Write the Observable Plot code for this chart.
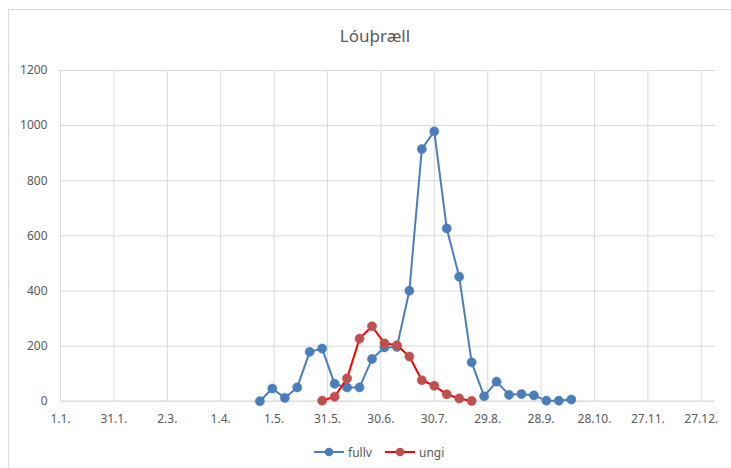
<!DOCTYPE html>
<html>
<head>
<meta charset="utf-8">
<script src="https://cdn.jsdelivr.net/npm/d3@7"></script>
<script src="https://cdn.jsdelivr.net/npm/@observablehq/plot@0.6"></script>
<style>
  html, body { margin: 0; padding: 0; background: #fff; overflow: hidden; }
  body { width: 731px; height: 468px; position: relative; font-family: "Noto Sans", "Open Sans", sans-serif; }
  #frame { position: absolute; left: 8px; top: 9px; width: 760px; height: 500px; border: 1px solid #d9d9d9; box-sizing: border-box; }
  #title { position: absolute; left: 0; width: 750px; top: 24px; text-align: center; font-size: 17px; color: #595959; }
  #chart { position: absolute; left: 0; top: 60px; }
  #legend { position: absolute; top: 443px; left: 0; width: 731px; height: 18px; font-size: 12px; color: #595959; }
  .item { position: absolute; top: 0; display: flex; align-items: center; height: 18px; }
  .item svg { display: block; margin-right: 3px; }
</style>
</head>
<body>
<div id="frame"></div>
<div id="title">Lóuþræll</div>
<div id="chart"></div>
<div id="legend"></div>
<script>
// ---- data ----
const fullvDates = ["2019-04-23","2019-04-30","2019-05-07","2019-05-14","2019-05-21","2019-05-28","2019-06-04","2019-06-11","2019-06-18","2019-06-25","2019-07-02","2019-07-09","2019-07-16","2019-07-23","2019-07-30","2019-08-06","2019-08-13","2019-08-20","2019-08-27","2019-09-03","2019-09-10","2019-09-17","2019-09-24","2019-10-01","2019-10-08","2019-10-15"];
const fullvValues = [0, 46, 12, 50, 179, 191, 63, 50, 50, 153, 195, 197, 401, 915, 979, 627, 452, 141, 18, 71, 23, 26, 21, 2, 2, 6];
const ungiDates = ["2019-05-28","2019-06-04","2019-06-11","2019-06-18","2019-06-25","2019-07-02","2019-07-09","2019-07-16","2019-07-23","2019-07-30","2019-08-06","2019-08-13","2019-08-20"];
const ungiValues = [2, 16, 83, 227, 272, 210, 203, 162, 76, 56, 25, 10, 1];
const xTickDates = ["2019-01-01","2019-01-31","2019-03-02","2019-04-01","2019-05-01","2019-05-31","2019-06-30","2019-07-30","2019-08-29","2019-09-28","2019-10-28","2019-11-27","2019-12-27"];
const xTickLabels = ["1.1.","31.1.","2.3.","1.4.","1.5.","31.5.","30.6.","30.7.","29.8.","28.9.","28.10.","27.11.","27.12."];
const yTicks = [0, 200, 400, 600, 800, 1000, 1200];
const xDomain = ["2019-01-01", "2020-01-04"];
const seriesNames = ["fullv", "ungi"];

// ---- styles ----
const blueLine = "#4a7ebb", blueDot = "#4a7ebb";
const redLine = "#ff0000", redDot = "#c0504d";
const gridColor = "#d9d9d9", textColor = "#595959";

const parse = d3.utcParse("%Y-%m-%d");
const fullv = fullvDates.map((d, i) => ({date: parse(d), value: fullvValues[i]}));
const ungi = ungiDates.map((d, i) => ({date: parse(d), value: ungiValues[i]}));
const tickDates = xTickDates.map(parse);
const labelOf = new Map(tickDates.map((d, i) => [+d, xTickLabels[i]]));

const plot = Plot.plot({
  width: 731,
  height: 375,
  marginLeft: 60,
  marginRight: 16,
  marginTop: 10,
  marginBottom: 34.3,
  style: {fontFamily: "'Noto Sans', 'Open Sans', sans-serif", fontSize: "12px", color: textColor, background: "transparent"},
  x: {type: "utc", domain: xDomain.map(parse), label: null},
  y: {domain: [0, 1200], label: null},
  marks: [
    Plot.gridX(tickDates, {stroke: gridColor, strokeOpacity: 1, strokeWidth: 1}),
    Plot.gridY(yTicks, {stroke: gridColor, strokeOpacity: 1, strokeWidth: 1}),
    Plot.ruleY([0], {stroke: gridColor, strokeWidth: 1}),
    Plot.axisX(tickDates, {tickSize: 0, tickPadding: 13, tickFormat: d => labelOf.get(+d), fill: textColor, fontSize: 12}),
    Plot.axisY(yTicks, {tickSize: 0, tickPadding: 13, tickFormat: d => String(d), fill: textColor, fontSize: 12}),
    Plot.line(fullv, {x: "date", y: "value", stroke: blueLine, strokeWidth: 2}),
    Plot.dot(fullv, {x: "date", y: "value", fill: blueDot, r: 4.6, stroke: blueDot, strokeWidth: 0.5}),
    Plot.line(ungi, {x: "date", y: "value", stroke: redLine, strokeWidth: 2}),
    Plot.dot(ungi, {x: "date", y: "value", fill: redDot, r: 4.6, stroke: redDot, strokeWidth: 0.5})
  ]
});
document.getElementById("chart").appendChild(plot);

// ---- legend ----
const legend = document.getElementById("legend");
const legendItems = [
  {name: seriesNames[0], line: blueLine, dot: blueDot, left: 313},
  {name: seriesNames[1], line: redLine, dot: redDot, left: 384}
];
for (const it of legendItems) {
  const div = document.createElement("div");
  div.className = "item";
  div.style.left = it.left + "px";
  div.innerHTML = `<svg width="32" height="12"><line x1="1" x2="31" y1="6" y2="6" stroke="${it.line}" stroke-width="2"/><circle cx="16" cy="6" r="4.3" fill="${it.dot}"/></svg><span>${it.name}</span>`;
  legend.appendChild(div);
}
</script>
</body>
</html>
